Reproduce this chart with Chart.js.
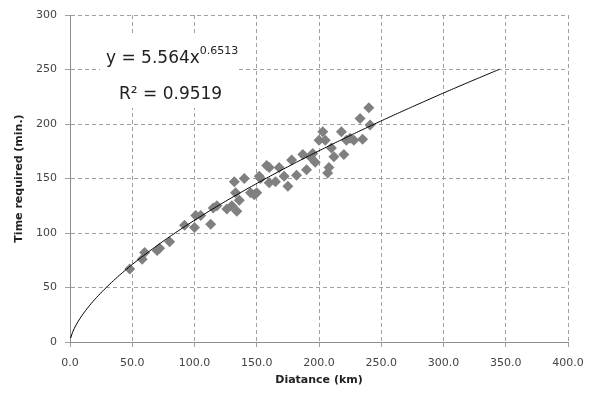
<!DOCTYPE html>
<html lang="en">
<head>
    <meta charset="UTF-8">
    <title>Time required vs Distance</title>
    <script src="https://cdn.jsdelivr.net/npm/chart.js"></script>
    <style>
        body { margin: 0; background: #fff; }
        #wrap { width: 601px; height: 399px; }
    </style>
</head>
<body>
    <div id="wrap"><canvas id="chart"></canvas></div>

    <script>
        // observed trips: distance (km) and time required (min)
        const distance = [48, 58, 60, 70, 72, 80, 92, 100, 101, 105, 113, 115, 118, 126, 130, 132, 133, 134, 136, 140,
                          145, 148, 150, 152, 153, 158, 160, 160, 165, 168, 172, 175, 178, 182, 187, 190, 193, 195, 197, 200,
                          203, 205, 207, 208, 210, 212, 218, 220, 222, 225, 228, 233, 235, 240, 241];
        const timeRequired = [67, 76, 82, 84, 86, 92, 107, 105, 116, 116, 108, 123, 125, 122, 125, 147, 137, 120, 130, 150,
                              137, 135, 137, 152, 150, 162, 160, 146, 147, 160, 152, 143, 167, 153, 172, 158, 170, 173, 165, 185,
                              193, 185, 155, 160, 178, 170, 193, 172, 185, 187, 185, 205, 186, 215, 199];

        // power trendline shown on the chart
        const trendA = 5.564;
        const trendB = 0.6513;
        const trendMax = 345;
        const xTicks = [0, 50, 100, 150, 200, 250, 300, 350, 400];
        const yTicks = [0, 50, 100, 150, 200, 250, 300];

        const points = distance.map((d, i) => ({ x: d, y: timeRequired[i] }));
        const trend = [];
        for (let x = 0.5; x <= trendMax; x += 1.5) trend.push({ x: x, y: trendA * Math.pow(x, trendB) });
        trend.push({ x: trendMax, y: trendA * Math.pow(trendMax, trendB) });

        const equationBox = {
            id: 'equationBox',
            afterDatasetsDraw(chart) {
                const ctx = chart.ctx;
                ctx.save();
                ctx.fillStyle = '#fff';
                ctx.fillRect(100, 36, 136, 72);
                ctx.fillStyle = '#222';
                ctx.textBaseline = 'alphabetic';
                ctx.font = '17px "DejaVu Sans"';
                const main = 'y = 5.564x';
                ctx.fillText(main, 106, 63);
                const w = ctx.measureText(main).width;
                ctx.font = '11px "DejaVu Sans"';
                ctx.fillText(trendB.toString(), 106 + w, 54);
                ctx.font = '17px "DejaVu Sans"';
                ctx.fillText('R\u00B2 = 0.9519', 119, 99);
                ctx.restore();
            }
        };

        const gridStyle = {
            color: '#a0a0a0',
            lineWidth: 1,
            tickLength: 5,
            drawTicks: true
        };

        new Chart(document.getElementById('chart'), {
            type: 'scatter',
            data: {
                datasets: [{
                    label: 'Observed',
                    data: points,
                    pointStyle: 'rectRot',
                    pointRadius: 5.5,
                    backgroundColor: '#808080',
                    borderColor: '#808080',
                    borderWidth: 0,
                    order: 2
                }, {
                    label: 'Trend',
                    type: 'line',
                    data: trend,
                    borderColor: '#000',
                    borderWidth: 1,
                    pointRadius: 0,
                    fill: false,
                    tension: 0,
                    order: 1
                }]
            },
            options: {
                responsive: true,
                maintainAspectRatio: false,
                animation: false,
                layout: { padding: { top: 15, right: 33, left: 0, bottom: 0 } },
                plugins: { legend: { display: false }, tooltip: { enabled: false } },
                scales: {
                    x: {
                        type: 'linear',
                        min: 0,
                        max: 400,
                        afterBuildTicks: s => { s.ticks = xTicks.map(v => ({ value: v })); },
                        afterFit: s => { s.height = 57; },
                        grid: gridStyle,
                        border: { color: '#8c8c8c', dash: [4, 3], display: true },
                        ticks: {
                            color: '#444',
                            font: { family: 'DejaVu Sans', size: 11 },
                            padding: 10,
                            callback: v => v.toFixed(1)
                        },
                        title: {
                            display: true,
                            text: 'Diatance (km)',
                            color: '#222',
                            font: { family: 'DejaVu Sans', size: 11, weight: 'bold' },
                            padding: { top: 4, bottom: 12 }
                        }
                    },
                    y: {
                        min: 0,
                        max: 300,
                        afterBuildTicks: s => { s.ticks = yTicks.map(v => ({ value: v })); },
                        afterFit: s => { s.width = 70; },
                        grid: gridStyle,
                        border: { color: '#8c8c8c', dash: [4, 3], display: true },
                        ticks: {
                            color: '#444',
                            font: { family: 'DejaVu Sans', size: 11 },
                            padding: 8
                        },
                        title: {
                            display: true,
                            text: 'Time required (min.)',
                            color: '#222',
                            font: { family: 'DejaVu Sans', size: 11, weight: 'bold' },
                            padding: { top: 13, bottom: 4 }
                        }
                    }
                }
            },
            plugins: [equationBox]
        });
    </script>
</body>
</html>
